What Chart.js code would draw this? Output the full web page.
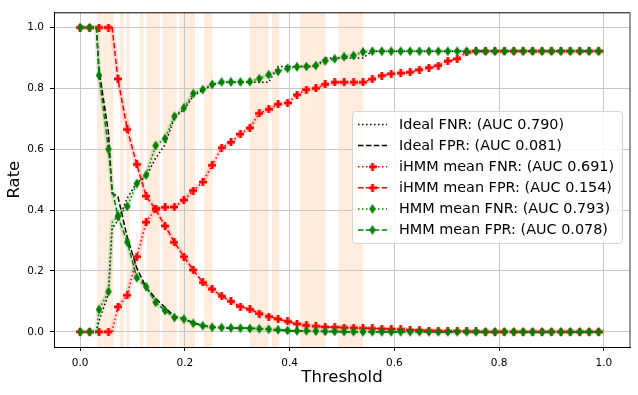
<!DOCTYPE html>
<html>
<head>
<meta charset="utf-8">
<script src="https://cdn.jsdelivr.net/npm/chart.js@4.4.1/dist/chart.umd.min.js"></script>
<style>
  html, body { margin: 0; padding: 0; background: #fff; }
</style>
</head>
<body>
<canvas id="chart" width="638" height="395"></canvas>
<script>
// thresholds; markers sit on the 0.018 grid (0 .. 0.99), the others are plain line points
const thresholds = [0, 0.018, 0.031, 0.036, 0.054, 0.061, 0.072, 0.09, 0.108, 0.126, 0.144, 0.162,
  0.18, 0.198, 0.216, 0.234, 0.252, 0.27, 0.288, 0.306, 0.324, 0.342,
  0.36, 0.378, 0.396, 0.414, 0.432, 0.45, 0.468, 0.486, 0.504, 0.522,
  0.54, 0.558, 0.576, 0.594, 0.612, 0.63, 0.648, 0.666, 0.684, 0.702,
  0.72, 0.738, 0.756, 0.774, 0.792, 0.81, 0.828, 0.846, 0.864, 0.882,
  0.9, 0.918, 0.936, 0.954, 0.972, 0.99, 1.0];
const markerStep = 0.018;

const idealFnr = [0, 0, 0, 0.035, 0.125, 0.34, 0.365, 0.44, 0.49, 0.51, 0.57, 0.615,
  0.705, 0.73, 0.775, 0.795, 0.81, 0.82, 0.82, 0.82, 0.82, 0.82,
  0.82, 0.872, 0.872, 0.872, 0.872, 0.872, 0.9, 0.9, 0.9, 0.9,
  0.9, 0.922, 0.922, 0.922, 0.922, 0.922, 0.922, 0.922, 0.922, 0.922,
  0.922, 0.922, 0.922, 0.922, 0.922, 0.922, 0.922, 0.922, 0.922, 0.922,
  0.922, 0.922, 0.922, 0.922, 0.922, 0.922, 0.922];
const idealFpr = [1, 1, 1, 0.86, 0.655, 0.455, 0.445, 0.31, 0.21, 0.145, 0.11, 0.08,
  0.05, 0.042, 0.03, 0.02, 0.015, 0.013, 0.012, 0.012, 0.011, 0.01,
  0.008, 0.006, 0.004, 0.003, 0.003, 0.002, 0.001, 0.001, 0, 0,
  0, 0, 0, 0, 0, 0, 0, 0, 0, 0,
  0, 0, 0, 0, 0, 0, 0, 0, 0, 0,
  0, 0, 0, 0, 0, 0, 0];
const ihmmFnr = [0, 0, 0, 0, 0, 0, 0.082, 0.12, 0.247, 0.36, 0.405, 0.409,
  0.41, 0.433, 0.464, 0.492, 0.547, 0.605, 0.623, 0.65, 0.67, 0.718,
  0.731, 0.748, 0.752, 0.779, 0.796, 0.8, 0.813, 0.82, 0.82, 0.82,
  0.82, 0.83, 0.842, 0.848, 0.85, 0.853, 0.861, 0.868, 0.875, 0.89,
  0.897, 0.918, 0.922, 0.922, 0.922, 0.922, 0.922, 0.922, 0.922, 0.922,
  0.922, 0.922, 0.922, 0.922, 0.922, 0.922, 0.922];
const ihmmFpr = [1, 1, 1, 1, 1, 1, 0.831, 0.665, 0.55, 0.446, 0.402, 0.348,
  0.294, 0.247, 0.203, 0.162, 0.14, 0.117, 0.1, 0.083, 0.074, 0.06,
  0.05, 0.042, 0.034, 0.026, 0.021, 0.018, 0.016, 0.015, 0.014, 0.013,
  0.012, 0.011, 0.01, 0.009, 0.008, 0.006, 0.005, 0.004, 0.003, 0.002,
  0.002, 0.001, 0.001, 0, 0, 0, 0, 0, 0, 0,
  0, 0, 0, 0, 0, 0, 0];
const hmmFnr = [0, 0, 0, 0.073, 0.132, 0.36, 0.38, 0.412, 0.487, 0.515, 0.612, 0.635,
  0.708, 0.736, 0.783, 0.796, 0.813, 0.821, 0.821, 0.821, 0.822, 0.832,
  0.845, 0.856, 0.866, 0.871, 0.872, 0.875, 0.89, 0.897, 0.904, 0.908,
  0.92, 0.922, 0.922, 0.922, 0.922, 0.922, 0.922, 0.922, 0.922, 0.922,
  0.922, 0.922, 0.922, 0.922, 0.922, 0.922, 0.922, 0.922, 0.922, 0.922,
  0.922, 0.922, 0.922, 0.922, 0.922, 0.922, 0.922];
const hmmFpr = [1, 1, 1, 0.843, 0.6, 0.47, 0.38, 0.295, 0.178, 0.148, 0.097, 0.07,
  0.047, 0.042, 0.028, 0.02, 0.015, 0.014, 0.013, 0.012, 0.011, 0.01,
  0.0085, 0.0065, 0.0045, 0.003, 0.003, 0.002, 0.001, 0.001, 0.0005, 0,
  0, 0, 0, 0, 0, 0, 0, 0, 0, 0,
  0, 0, 0, 0, 0, 0, 0, 0, 0, 0,
  0, 0, 0, 0, 0, 0, 0];

// shaded threshold spans [from, to]
const spans = [[0.032, 0.0415], [0.0425, 0.0525], [0.0535, 0.0635], [0.076, 0.083], [0.088, 0.095],
  [0.1145, 0.121], [0.127, 0.152], [0.157, 0.184], [0.189, 0.219], [0.237, 0.253],
  [0.324, 0.360], [0.366, 0.380], [0.42, 0.468], [0.493, 0.540]];

const legendLabels = ['Ideal FNR: (AUC 0.790)', 'Ideal FPR: (AUC 0.081)',
  'iHMM mean FNR: (AUC 0.691)', 'iHMM mean FPR: (AUC 0.154)',
  'HMM mean FNR: (AUC 0.793)', 'HMM mean FPR: (AUC 0.078)'];

const xTicks = [0, 0.2, 0.4, 0.6, 0.8, 1.0];
const yTicks = [0, 0.2, 0.4, 0.6, 0.8, 1.0];

const RED = '#ff0000';
const GREEN = '#008000';
const DOTTED = [1.5, 2.5];
const DASHED = [5.5, 2.4];
const FONT = "'DejaVu Sans', sans-serif";

// markers: filled plus for iHMM, thin diamond for HMM
function plusMarker(color) {
  const c = document.createElement('canvas');
  c.width = 8; c.height = 8;
  const g = c.getContext('2d');
  g.fillStyle = color;
  g.fillRect(2.6, 0, 2.8, 8);
  g.fillRect(0, 2.6, 8, 2.8);
  return c;
}
function diamondMarker(color) {
  const c = document.createElement('canvas');
  c.width = 8; c.height = 11;
  const g = c.getContext('2d');
  g.fillStyle = color;
  g.beginPath();
  g.moveTo(4, 0.5); g.lineTo(7.2, 5.5); g.lineTo(4, 10.5); g.lineTo(0.8, 5.5);
  g.closePath();
  g.fill();
  return c;
}
const redPlus = plusMarker(RED);
const greenDiamond = diamondMarker(GREEN);

const toPoints = arr => thresholds.map((x, i) => ({x, y: arr[i]}));
const onMarkerGrid = x => x < 1 && Math.abs(x / markerStep - Math.round(x / markerStep)) < 1e-6;
const markerRadius = ctx => onMarkerGrid(thresholds[ctx.dataIndex]) ? 3 : 0;

function lineSet(label, arr, color, dash, marker, order) {
  return {
    label, data: toPoints(arr), borderColor: color, backgroundColor: color,
    borderWidth: 1.5, borderDash: dash, borderCapStyle: 'butt',
    pointStyle: marker || 'circle', pointRadius: marker ? markerRadius : 0,
    tension: 0, order
  };
}
function bandSet(arr, color) {
  return {
    label: '_band', data: toPoints(arr), borderColor: color, borderWidth: 5,
    pointRadius: 0, tension: 0, order: 20
  };
}

const datasets = [
  lineSet(legendLabels[0], idealFnr, '#000', DOTTED, null, 6),
  lineSet(legendLabels[1], idealFpr, '#000', DASHED, null, 5),
  lineSet(legendLabels[2], ihmmFnr, RED, DOTTED, redPlus, 4),
  lineSet(legendLabels[3], ihmmFpr, RED, DASHED, redPlus, 3),
  lineSet(legendLabels[4], hmmFnr, GREEN, DOTTED, greenDiamond, 2),
  lineSet(legendLabels[5], hmmFpr, GREEN, DASHED, greenDiamond, 1),
  bandSet(ihmmFnr, 'rgba(255,0,0,0.13)'),
  bandSet(ihmmFpr, 'rgba(255,0,0,0.13)'),
  bandSet(hmmFnr, 'rgba(0,128,0,0.13)'),
  bandSet(hmmFpr, 'rgba(0,128,0,0.13)')
];

const spanPlugin = {
  id: 'spans',
  beforeDraw(chart) {
    const {ctx, chartArea: a, scales: {x}} = chart;
    ctx.save();
    ctx.fillStyle = 'rgb(255,236,220)';
    spans.forEach(([s, e]) => {
      const x0 = x.getPixelForValue(s), x1 = x.getPixelForValue(e);
      ctx.fillRect(x0, a.top, x1 - x0, a.bottom - a.top);
    });
    ctx.restore();
  }
};

const framePlugin = {
  id: 'frame',
  afterDatasetsDraw(chart) {
    const {ctx, chartArea: a} = chart;
    ctx.save();
    ctx.lineWidth = 1;
    ctx.strokeStyle = '#000';
    ctx.beginPath();
    ctx.moveTo(a.left, a.top + 0.5); ctx.lineTo(a.right, a.top + 0.5);
    ctx.stroke();
    ctx.strokeStyle = '#777';
    ctx.lineWidth = 1.5;
    ctx.beginPath();
    ctx.moveTo(a.right, a.top); ctx.lineTo(a.right, a.bottom);
    ctx.stroke();
    ctx.restore();
  }
};

const legendPlugin = {
  id: 'boxLegend',
  afterDraw(chart) {
    const ctx = chart.ctx;
    const bx = 352.5, by = 111.5, bw = 270, bh = 132;
    ctx.save();
    ctx.fillStyle = 'rgba(255,255,255,0.85)';
    ctx.strokeStyle = '#d4d4d4';
    ctx.lineWidth = 1;
    ctx.beginPath();
    ctx.roundRect(bx, by, bw, bh, 3);
    ctx.fill();
    ctx.stroke();
    ctx.font = '14.4px ' + FONT;
    ctx.textBaseline = 'middle';
    ctx.textAlign = 'left';
    datasets.slice(0, 6).forEach((ds, i) => {
      const y = 124.5 + i * 21.1;
      ctx.strokeStyle = ds.borderColor;
      ctx.lineWidth = 1.5;
      ctx.setLineDash(ds.borderDash);
      ctx.beginPath();
      ctx.moveTo(358, y); ctx.lineTo(387, y);
      ctx.stroke();
      ctx.setLineDash([]);
      if (ds.pointStyle && typeof ds.pointStyle === 'object') {
        const m = ds.pointStyle;
        ctx.drawImage(m, 372.5 - m.width / 2, y - m.height / 2);
      }
      ctx.fillStyle = '#000';
      ctx.fillText(ds.label, 399, y + 0.5);
    });
    ctx.restore();
  }
};

new Chart(document.getElementById('chart'), {
  type: 'line',
  data: {datasets},
  plugins: [spanPlugin, framePlugin, legendPlugin],
  options: {
    responsive: false,
    animation: false,
    devicePixelRatio: 1,
    layout: {padding: {top: 8, right: 8, left: 0, bottom: 0}},
    plugins: {legend: {display: false}, tooltip: {enabled: false}},
    scales: {
      x: {
        type: 'linear', min: -0.05, max: 1.05,
        afterBuildTicks: s => { s.ticks = xTicks.map(v => ({value: v})); },
        afterFit: s => { s.height = 48; },
        grid: {color: '#c6c6c6', lineWidth: 1, tickLength: 4, tickColor: '#000'},
        border: {color: '#000', width: 1},
        ticks: {color: '#000', font: {family: FONT, size: 10.5}, padding: 6,
          maxRotation: 0, callback: v => v.toFixed(1)},
        title: {display: true, text: 'Threshold', color: '#000',
          font: {family: FONT, size: 16.5}, padding: {top: 0, bottom: 7}}
      },
      y: {
        type: 'linear', min: -0.05, max: 1.05,
        afterBuildTicks: s => { s.ticks = yTicks.map(v => ({value: v})); },
        afterFit: s => { s.width = 54; },
        grid: {color: '#c6c6c6', lineWidth: 1, tickLength: 4, tickColor: '#000'},
        border: {color: '#000', width: 1},
        ticks: {color: '#000', font: {family: FONT, size: 10.5}, padding: 6,
          callback: v => v.toFixed(1)},
        title: {display: true, text: 'Rate', color: '#000',
          font: {family: FONT, size: 16.5}, padding: {top: 5, bottom: 0}}
      }
    }
  }
});
</script>
</body>
</html>
